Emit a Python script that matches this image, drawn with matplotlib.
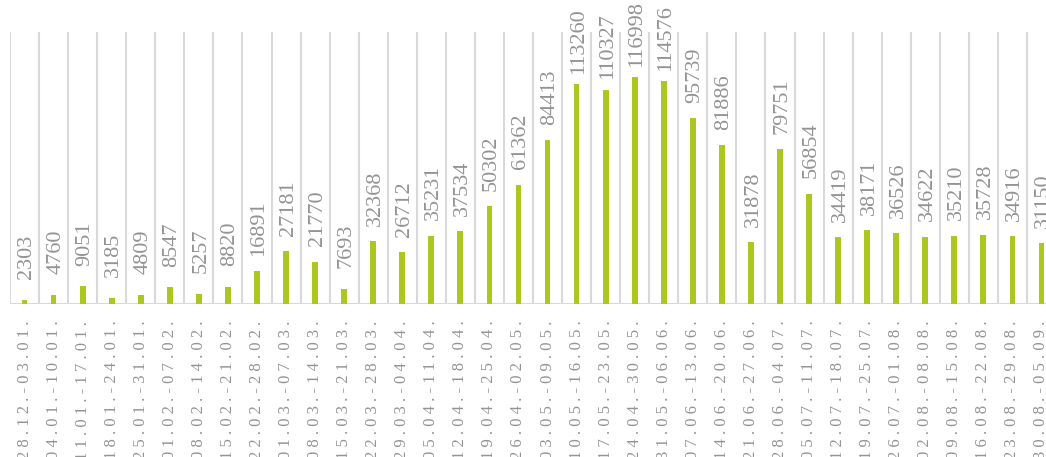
import matplotlib.pyplot as plt

weeks = ["28.12.-03.01.", "04.01.-10.01.", "11.01.-17.01.", "18.01.-24.01.",
         "25.01.-31.01.", "01.02.-07.02.", "08.02.-14.02.", "15.02.-21.02.",
         "22.02.-28.02.", "01.03.-07.03.", "08.03.-14.03.", "15.03.-21.03.",
         "22.03.-28.03.", "29.03.-04.04.", "05.04.-11.04.", "12.04.-18.04.",
         "19.04.-25.04.", "26.04.-02.05.", "03.05.-09.05.", "10.05.-16.05.",
         "17.05.-23.05.", "24.04.-30.05.", "31.05.-06.06.", "07.06.-13.06.",
         "14.06.-20.06.", "21.06.-27.06.", "28.06.-04.07.", "05.07.-11.07.",
         "12.07.-18.07.", "19.07.-25.07.", "26.07.-01.08.", "02.08.-08.08.",
         "09.08.-15.08.", "16.08.-22.08.", "23.08.-29.08.", "30.08.-05.09."]
values = [2303, 4760, 9051, 3185, 4809, 8547, 5257, 8820, 16891, 27181,
          21770, 7693, 32368, 26712, 35231, 37534, 50302, 61362, 84413, 113260,
          110327, 116998, 114576, 95739, 81886, 31878, 79751, 56854, 34419, 38171,
          36526, 34622, 35210, 35728, 34916, 31150]

bar_color = "#aac81e"
text_color = "#939393"
grid_color = "#d9d9d9"

plt.rcParams["font.family"] = ["Liberation Serif", "DejaVu Serif"]

fig = plt.figure(figsize=(10.46, 4.57), dpi=100)
# axes runs past the right edge, the reference is cropped there
ax = fig.add_axes([10 / 1046, 153 / 457, 1.0, 272 / 457])

x = list(range(len(values)))
ax.bar(x, values, width=0.2, color=bar_color, zorder=3)

for i in range(len(values) + 1):
    ax.axvline(i - 0.5, color=grid_color, lw=1.5, zorder=1)
ax.axhline(0, color=grid_color, lw=1.5, zorder=2)

for xi, v in zip(x, values):
    ax.annotate(str(v), (xi, v), xytext=(1.5, 31), textcoords="offset points",
                rotation=90, ha="center", va="center", fontsize=16,
                color=text_color)

ax.set_xlim(-0.5, len(values) - 0.5)
ax.set_ylim(0, 140000)
ax.set_xticks(x)
ax.set_xticklabels([" ".join(w) for w in weeks], rotation=90, fontsize=12,
                   color=text_color)
ax.tick_params(axis="x", length=0, pad=12)
ax.set_yticks([])
for s in ax.spines.values():
    s.set_visible(False)

fig.savefig("out.png", dpi=100)
